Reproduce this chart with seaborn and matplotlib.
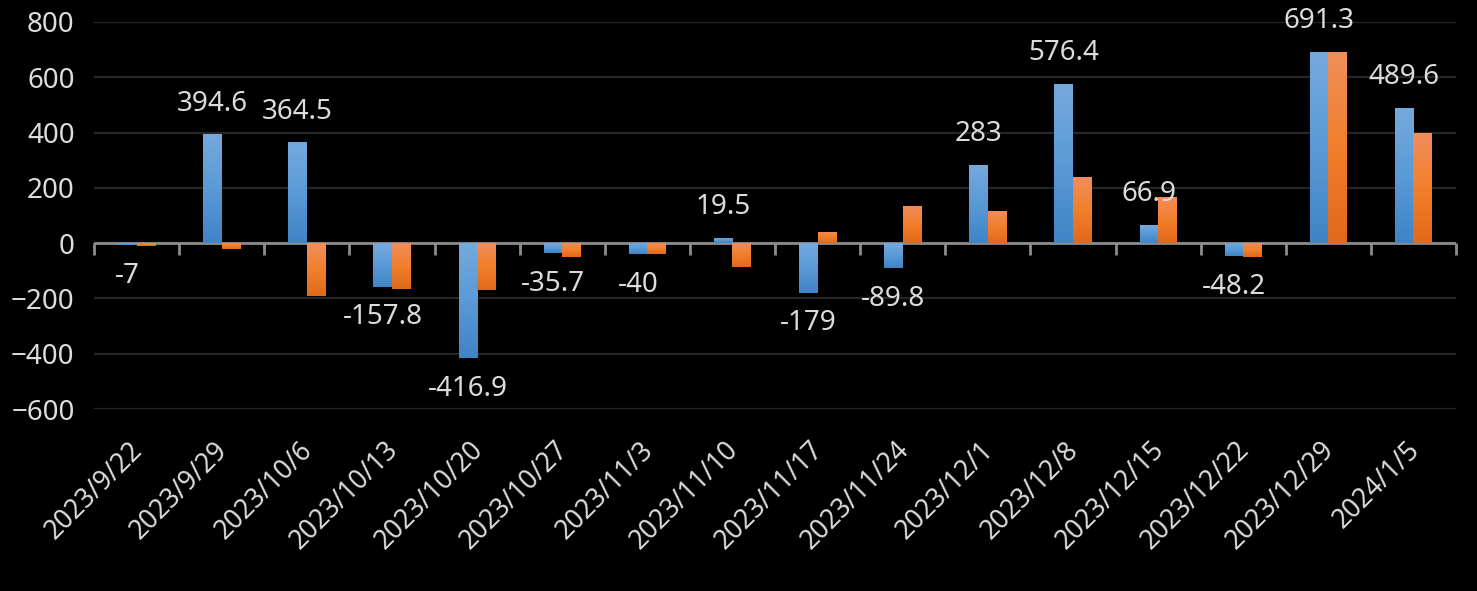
import numpy as np
import pandas as pd
import matplotlib
matplotlib.use("Agg")
import matplotlib.pyplot as plt
import matplotlib.transforms as mtransforms
from matplotlib.colors import LinearSegmentedColormap
import seaborn as sns

dates = ["2023/9/22", "2023/9/29", "2023/10/6", "2023/10/13", "2023/10/20",
         "2023/10/27", "2023/11/3", "2023/11/10", "2023/11/17", "2023/11/24",
         "2023/12/1", "2023/12/8", "2023/12/15", "2023/12/22", "2023/12/29",
         "2024/1/5"]
series_a = [-7, 394.6, 364.5, -157.8, -416.9, -35.7, -40, 19.5, -179, -89.8,
            283, 576.4, 66.9, -48.2, 691.3, 489.6]
series_b = [-10, -22, -191, -165, -169, -50, -39, -86, 41, 134,
            116, 238, 166, -50, 691, 398]
yticks = [-600, -400, -200, 0, 200, 400, 600, 800]

df = pd.DataFrame({"date": dates * 2,
                   "value": series_a + series_b,
                   "series": ["a"] * len(dates) + ["b"] * len(dates)})

sns.set_style("dark", {"axes.facecolor": "black", "figure.facecolor": "black"})
plt.rcParams["font.family"] = ["Noto Sans", "DejaVu Sans"]
txt = "#dcdcdc"

fig = plt.figure(figsize=(14.77, 5.91), dpi=100)
ax = fig.add_axes([94 / 1477, 1 - 409 / 591, (1456 - 94) / 1477, (409 - 22) / 591])

sns.barplot(data=df, x="date", y="value", hue="series", order=dates,
            palette={"a": "#5b9bd5", "b": "#ed7d31"}, width=0.435,
            linewidth=0, legend=False, ax=ax, zorder=3)

ax.set_ylim(-600, 800)
ax.set_xlim(-0.5, len(dates) - 0.5)
ax.set_yticks(yticks)
ax.yaxis.grid(True, color="#262626", linewidth=1.6, zorder=0)
ax.xaxis.grid(False)
for s in ax.spines.values():
    s.set_visible(False)

# gradient fills, light on top, darker at the bottom
cmaps = [LinearSegmentedColormap.from_list("blue", ["#3f84c6", "#5a9ad6", "#76aade"]),
         LinearSegmentedColormap.from_list("orange", ["#e0691a", "#f27f2c", "#f08e5a"])]
grad = np.linspace(0, 1, 256).reshape(-1, 1)
for cont, cm in zip(ax.containers, cmaps):
    for bar in cont:
        x, y = bar.get_x(), bar.get_y()
        w, h = bar.get_width(), bar.get_height()
        y0, y1 = min(y, y + h), max(y, y + h)
        bar.set_facecolor("none")
        im = ax.imshow(grad, cmap=cm, extent=[x, x + w, y0, y1], origin="lower",
                       aspect="auto", zorder=3, interpolation="bilinear")
        im.set_clip_path(bar)
ax.set_xlim(-0.5, len(dates) - 0.5)
ax.set_ylim(-600, 800)

# zero axis line with category boundary ticks (under the bars)
ax.axhline(0, color="#8c8c8c", linewidth=2, zorder=2)
ax.plot(np.arange(len(dates) + 1) - 0.5, np.zeros(len(dates) + 1), linestyle="none",
        marker=3, markersize=8.5, markeredgewidth=2, color="#8c8c8c", zorder=2,
        clip_on=False)

# data labels for the blue series
for bar, v in zip(ax.containers[0], series_a):
    off = 22 if v >= 0 else -22
    ax.annotate(f"{v:g}", (bar.get_x() + bar.get_width() / 2, v),
                xytext=(0, off), textcoords="offset points",
                ha="center", va="center", fontsize=20, color=txt, zorder=5)

ax.set_xlabel("")
ax.set_ylabel("")
ax.tick_params(axis="y", length=0, pad=14, labelsize=20, labelcolor=txt)
ax.tick_params(axis="x", length=0, pad=0, labelsize=19, labelcolor=txt)
shift = mtransforms.ScaledTranslation(2 / 100, -37 / 100, fig.dpi_scale_trans)
for lab in ax.get_xticklabels():
    lab.set_rotation(45)
    lab.set_ha("right")
    lab.set_va("center")
    lab.set_rotation_mode("anchor")
    lab.set_transform(lab.get_transform() + shift)

fig.savefig("out.png", dpi=100, facecolor="black")
